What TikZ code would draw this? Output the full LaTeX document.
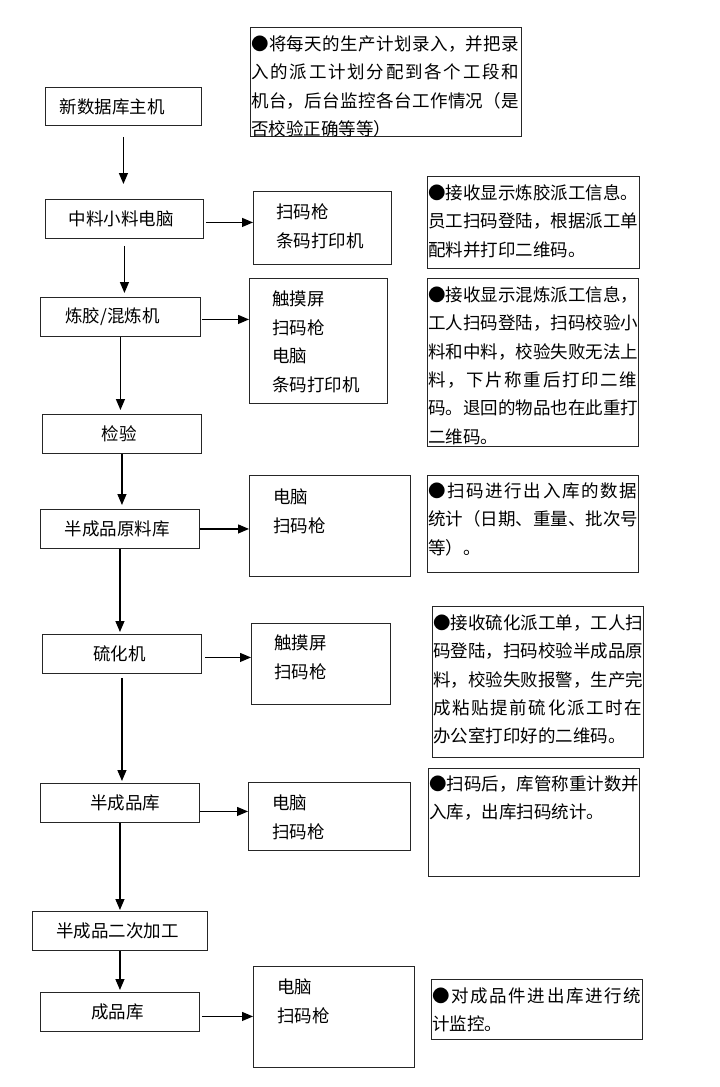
\documentclass[tikz,border=0pt]{standalone}
\usepackage{fontspec}
\setmainfont{Noto Sans CJK SC}
\usetikzlibrary{arrows.meta}
\ExplSyntaxOn
\NewDocumentCommand\jl{mm}{\leavevmode\hbox_to_wd:nn{#1}{\tl_map_inline:nn{#2}{##1\hfil}\unskip}}
\ExplSyntaxOff
\newcommand\myfs{\fontsize{17.5}{21}\selectfont}
\newcommand\myfsd{\fontsize{17.5}{28.5}\selectfont}
\newcommand\myfsn{\fontsize{17.5}{28.3}\selectfont}
\tikzset{
  box/.style={draw=black!85, line width=0.9pt, inner sep=0pt, anchor=north west, font=\myfs},
  devtxt/.style={inner sep=0pt, anchor=base west, align=left, text width=130pt, font=\myfsd},
  notetxt/.style={inner sep=0pt, anchor=base west, align=left, text width=#1, font=\myfsn},
  notetxt/.default=212pt,
  arr/.style={line width=1.2pt, -{Triangle[length=11pt,width=9pt]}},
}
\begin{document}
\begin{tikzpicture}[x=1pt,y=-1pt]
\useasboundingbox (0,0) rectangle (720,1087);
\fill[white] (0,0) rectangle (720,1087);

% main process boxes
\node[box, minimum width=156pt, minimum height=38pt] (A) at (45,87) {\hspace*{-22pt}新数据库主机};
\node[box, minimum width=158pt, minimum height=39pt] (B) at (45,199) {\hspace*{-6pt}中料小料电脑};
\node[box, minimum width=160pt, minimum height=39pt] (D) at (40,297) {\hspace*{-16pt}炼胶/混炼机};
\node[box, minimum width=159pt, minimum height=39pt] (F) at (42,414) {\hspace*{-5pt}检验};
\node[box, minimum width=159pt, minimum height=39pt] (G) at (40,509) {\hspace*{-5pt}半成品原料库};
\node[box, minimum width=159pt, minimum height=39pt] (I) at (42,634) {\hspace*{-5pt}硫化机};
\node[box, minimum width=159pt, minimum height=39pt] (K) at (40,783) {\hspace*{11pt}半成品库};
\node[box, minimum width=175pt, minimum height=39pt] (M) at (32,911) {\hspace*{-5pt}半成品二次加工};
\node[box, minimum width=159pt, minimum height=39pt] (N) at (40,992) {\hspace*{-5pt}成品库};

% device boxes
\node[box, minimum width=138pt, minimum height=73pt] (dB) at (253,191) {};
\node[box, minimum width=138pt, minimum height=125pt] (dD) at (249,278) {};
\node[box, minimum width=161pt, minimum height=101pt] (dG) at (249,475) {};
\node[box, minimum width=139pt, minimum height=81pt] (dI) at (251,623) {};
\node[box, minimum width=162pt, minimum height=68pt] (dK) at (248,782) {};
\node[box, minimum width=161pt, minimum height=101pt] (dN) at (253,966) {};

\node[devtxt] (tB) at (276,218.6) {扫码枪\\条码打印机};
\node[devtxt] (tD) at (272,305.6) {触摸屏\\扫码枪\\电脑\\条码打印机};
\node[devtxt] (tG) at (273,503.6) {电脑\\扫码枪};
\node[devtxt] (tI) at (274,649.6) {触摸屏\\扫码枪};
\node[devtxt] (tK) at (272,809.6) {电脑\\扫码枪};
\node[devtxt] (tN) at (277,993.6) {电脑\\扫码枪};

% note boxes
\node[box, minimum width=271pt, minimum height=109pt] (n1) at (250,27) {};
\node[box, minimum width=212pt, minimum height=92pt] (n2) at (427,176) {};
\node[box, minimum width=211pt, minimum height=168pt] (n3) at (427,278) {};
\node[box, minimum width=211pt, minimum height=97pt] (n4) at (427,475) {};
\node[box, minimum width=211pt, minimum height=151pt] (n5) at (432,606) {};
\node[box, minimum width=211pt, minimum height=108pt] (n6) at (428,768) {};
\node[box, minimum width=211pt, minimum height=60pt] (n7) at (431,979) {};

\begin{scope}
\clip ([shift={(0.5pt,-0.5pt)}]n1.north west) rectangle ([shift={(-0.5pt,0.5pt)}]n1.south east);
\node[notetxt=270pt] (t1) at (251,50.6) {\jl{268pt}{●将每天的生产计划录入，并把录}\\\jl{268pt}{入的派工计划分配到各个工段和}\\\jl{268pt}{机台，后台监控各台工作情况（是}\\否校验正确等等）};
\end{scope}
\node[notetxt] (t2) at (428,199.6) {\jl{209pt}{●接收显示炼胶派工信息。}\\\jl{209pt}{员工扫码登陆，根据派工单}\\配料并打印二维码。};
\node[notetxt] (t3) at (428,301.6) {\jl{209pt}{●接收显示混炼派工信息，}\\\jl{209pt}{工人扫码登陆，扫码校验小}\\\jl{209pt}{料和中料，校验失败无法上}\\\jl{209pt}{料，下片称重后打印二维}\\\jl{209pt}{码。退回的物品也在此重打}\\二维码。};
\node[notetxt] (t4) at (428,497.6) {\jl{209pt}{●扫码进行出入库的数据}\\\jl{209pt}{统计（日期、重量、批次号}\\等）。};
\node[notetxt] (t5) at (433,629.6) {\jl{209pt}{●接收硫化派工单，工人扫}\\\jl{209pt}{码登陆，扫码校验半成品原}\\\jl{209pt}{料，校验失败报警，生产完}\\\jl{209pt}{成粘贴提前硫化派工时在}\\办公室打印好的二维码。};
\node[notetxt] (t6) at (429,790.6) {\jl{209pt}{●扫码后，库管称重计数并}\\入库，出库扫码统计。};
\node[notetxt] (t7) at (432,1002.6) {\jl{209pt}{●对成品件进出库进行统}\\计监控。};

% vertical arrows
\draw[arr, shorten <=11pt, shorten >=15pt] (A.south) -- (A.south |- B.north);
\draw[arr, shorten <=7pt, shorten >=4pt] (B.south) -- (B.south |- D.north);
\draw[arr, shorten >=4pt] (D.south) -- (D.south |- F.north);
\draw[arr, shorten >=4pt] (F.south) -- (F.south |- G.north);
\draw[arr, shorten >=2pt] (G.south) -- (G.south |- I.north);
\draw[arr, shorten <=4pt, shorten >=2pt] (I.south) -- (I.south |- K.north);
\draw[arr, shorten >=1pt] (K.south) -- (K.south |- M.north);
\draw[arr, shorten >=2pt] (M.south) -- (M.south |- N.north);

% horizontal arrows
\draw[arr, shorten <=2pt] ([yshift=-3.5pt]B.east) -- ([yshift=-3.5pt]B.east -| dB.west);
\draw[arr, shorten <=1pt] ([yshift=-2.5pt]D.east) -- ([yshift=-2.5pt]D.east -| dD.west);
\draw[arr] (G.east) -- (G.east -| dG.west);
\draw[arr, shorten <=3pt] ([yshift=-3.5pt]I.east) -- ([yshift=-3.5pt]I.east -| dI.west);
\draw[arr] ([yshift=-8.5pt]K.east) -- ([yshift=-8.5pt]K.east -| dK.west);
\draw[arr, shorten <=2pt] ([yshift=-4.5pt]N.east) -- ([yshift=-4.5pt]N.east -| dN.west);
\end{tikzpicture}
\end{document}
